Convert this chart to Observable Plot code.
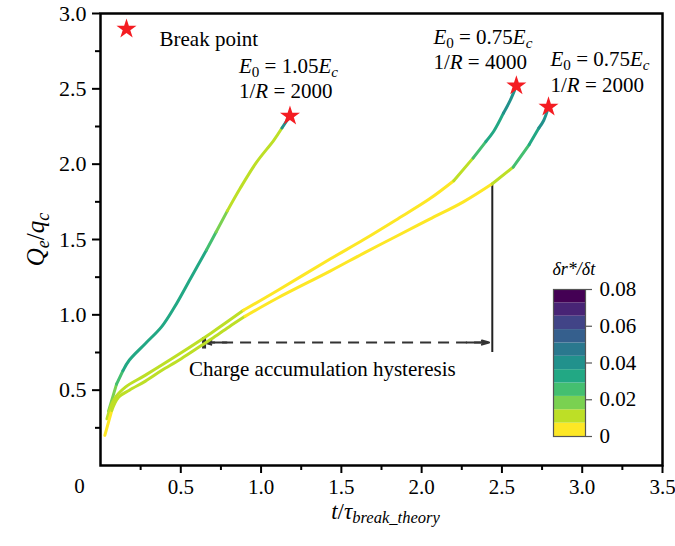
<!DOCTYPE html>
<html>
<head>
<meta charset="utf-8">
<script src="https://cdn.jsdelivr.net/npm/d3@7"></script>
<script src="https://cdn.jsdelivr.net/npm/@observablehq/plot@0.6"></script>
<style>
  html, body { margin: 0; padding: 0; background: white; }
  #wrap { position: relative; width: 675px; height: 546px; }
  #bar { position: absolute; left: 553px; top: 250px; }
  #wrap svg { overflow: visible; }
  #wrap svg, #wrap svg text, #wrap svg tspan { font-family: "Liberation Serif", "Times New Roman", serif !important; }
</style>
</head>
<body>
<div id="wrap"><div id="main"></div><div id="bar"></div></div>
<script>
// ---------- data ----------
const seriesNames = ["A", "B", "C"];
// A: E0 = 1.05Ec, 1/R = 2000
const tA = [0.05, 0.075, 0.10, 0.14, 0.18, 0.28, 0.38, 0.46, 0.56, 0.66, 0.72, 0.79, 0.87, 0.97, 1.08, 1.13, 1.18];
const qA = [0.36, 0.45, 0.54, 0.63, 0.70, 0.81, 0.92, 1.05, 1.24, 1.43, 1.55, 1.69, 1.84, 2.01, 2.16, 2.24, 2.32];
const vA = [0.018, 0.018, 0.025, 0.033, 0.033, 0.033, 0.033, 0.033, 0.033, 0.022, 0.018, 0.011, 0.011, 0.011, 0.011, 0.040, 0.040];
// B: E0 = 0.75Ec, 1/R = 4000
const tB = [0.04, 0.085, 0.155, 0.28, 0.49, 0.69, 0.89, 1.10, 1.43, 1.64, 1.84, 2.05, 2.20, 2.32, 2.40, 2.45, 2.51, 2.55, 2.59];
const qB = [0.31, 0.44, 0.52, 0.60, 0.74, 0.88, 1.03, 1.16, 1.37, 1.50, 1.63, 1.77, 1.89, 2.04, 2.15, 2.22, 2.34, 2.42, 2.52];
const vB = [0.011, 0.011, 0.011, 0.011, 0.011, 0.011, 0.003, 0.003, 0.003, 0.003, 0.003, 0.003, 0.011, 0.022, 0.033, 0.033, 0.040, 0.040, 0.040];
// C: E0 = 0.75Ec, 1/R = 2000
const tC = [0.027, 0.07, 0.11, 0.18, 0.28, 0.38, 0.49, 0.59, 0.69, 0.80, 0.90, 1.10, 1.43, 1.64, 1.84, 2.05, 2.26, 2.44, 2.57, 2.67, 2.73, 2.76, 2.79];
const qC = [0.20, 0.365, 0.45, 0.50, 0.56, 0.63, 0.70, 0.77, 0.84, 0.92, 0.99, 1.11, 1.29, 1.41, 1.52, 1.635, 1.75, 1.87, 1.98, 2.13, 2.24, 2.29, 2.38];
const vC = [0.003, 0.011, 0.011, 0.011, 0.011, 0.011, 0.011, 0.011, 0.011, 0.011, 0.003, 0.003, 0.003, 0.003, 0.003, 0.003, 0.003, 0.011, 0.022, 0.033, 0.040, 0.040, 0.040];

const labelLine1 = ["$E$_{0} = 1.05$E$_{$c$}", "$E$_{0} = 0.75$E$_{$c$}", "$E$_{0} = 0.75$E$_{$c$}"];
const labelLine2 = ["1/$R$ = 2000", "1/$R$ = 4000", "1/$R$ = 2000"];

const xMajor = [0.5, 1.0, 1.5, 2.0, 2.5, 3.0, 3.5];
const xMinor = [0.25, 0.75, 1.25, 1.75, 2.25, 2.75, 3.25];
const yMajor = [0.5, 1.0, 1.5, 2.0, 2.5, 3.0];
const yMinor = [0.25, 0.75, 1.25, 1.75, 2.25, 2.75];
const barTicks = [0, 0.02, 0.04, 0.06, 0.08];
const barMax = 0.08;
const bandCount = 11;

const hysteresisEnds = [0.645, 2.42];
const hysteresisLevel = 0.816;
const dropLineX = 2.44;
const dropLineBottom = 0.75;

const xTitle = "$t$/$τ$_{$break_theory$}";
const yTitle = "$Q$_{$e$}/$q$_{$c$}";
const barTitle = "$δr*/δt$";
const legendText = "Break point";
const hysteresisText = "Charge accumulation hysteresis";

// ---------- derived tables ----------
const curves = [[tA, qA, vA], [tB, qB, vB], [tC, qC, vC]];
const rows = [];
curves.forEach(([t, q, v], i) => t.forEach((tt, j) => rows.push({series: seriesNames[i], t: tt, q: q[j], v: v[j]})));
const breakPoints = curves.map(([t, q], i) => ({series: seriesNames[i], t: t[t.length - 1], q: q[q.length - 1]}));
const dropTop = qC[tC.indexOf(dropLineX)];

const thresholds = d3.range(1, bandCount).map(i => barMax * i / bandCount);
const bandColors = d3.range(bandCount).map(i => d3.interpolateViridis(1 - i / (bandCount - 1)));
const bands = d3.range(bandCount).map(i => ({lo: barMax * i / bandCount, hi: barMax * (i + 1) / bandCount, mid: barMax * (i + 0.5) / bandCount}));
const colorOpts = {type: "threshold", domain: thresholds, range: bandColors};

const FONT = "Liberation Serif";
const RED = "#f41c22";
const FS = 21;

function annot(i, dx, dy1, dy2) {
  const d = [breakPoints[i]];
  return [
    Plot.text(d, {x: "t", y: "q", text: () => labelLine1[i], dx, dy: dy1, textAnchor: "start", fontSize: FS, className: "rich21"}),
    Plot.text(d, {x: "t", y: "q", text: () => labelLine2[i], dx, dy: dy2, textAnchor: "start", fontSize: FS, className: "rich21"})
  ];
}

const main = Plot.plot({
  width: 675, height: 546,
  marginLeft: 100, marginRight: 13, marginTop: 13, marginBottom: 81,
  style: {fontFamily: FONT, fontSize: "21px", color: "black", background: "white"},
  x: {domain: [0, 3.5]},
  y: {domain: [0, 3]},
  color: colorOpts,
  marks: [
    Plot.axisX(xMinor, {tickSize: 5, strokeWidth: 2, tickFormat: () => "", label: null}),
    Plot.axisX(xMajor, {tickSize: 8, tickPadding: 6, strokeWidth: 2, fontSize: 21, tickFormat: d3.format(".1f"), label: null}),
    Plot.axisY(yMinor, {tickSize: 5, strokeWidth: 2, tickFormat: () => "", label: null}),
    Plot.axisY(yMajor, {tickSize: 8, tickPadding: 6, strokeWidth: 2, fontSize: 22, tickFormat: d3.format(".1f"), label: null}),
    Plot.text(["0"], {frameAnchor: "bottom-left", textAnchor: "middle", dx: -21, dy: 27, fontSize: 21}),
    Plot.frame({strokeWidth: 2.5}),
    // drop line and hysteresis arrow
    Plot.ruleX([dropLineX], {y1: dropLineBottom, y2: dropTop, stroke: "#222", strokeWidth: 2}),
    Plot.link([hysteresisEnds], {x1: d => d[0], x2: d => d[1], y1: hysteresisLevel, y2: hysteresisLevel,
      stroke: "#333", strokeWidth: 2, strokeDasharray: "11,7", markerStart: "tick"}),
    Plot.arrow([hysteresisEnds], {x1: d => d[0] + 0.14, x2: d => d[0], y1: hysteresisLevel, y2: hysteresisLevel,
      stroke: "#333", strokeWidth: 2, headLength: 22, headAngle: 32}),
    Plot.arrow([hysteresisEnds], {x1: d => d[1] - 0.14, x2: d => d[1], y1: hysteresisLevel, y2: hysteresisLevel,
      stroke: "#333", strokeWidth: 2, headLength: 22, headAngle: 32}),
    Plot.text([hysteresisEnds], {x: d => d[0], y: hysteresisLevel, text: () => hysteresisText, dx: -15, dy: 27, textAnchor: "start", fontSize: FS}),
    // curves
    Plot.line(rows, {x: "t", y: "q", z: "series", stroke: "v", strokeWidth: 3, curve: "catmull-rom", strokeLinecap: "round", strokeLinejoin: "round"}),
    Plot.dot(breakPoints, {x: "t", y: "q", symbol: "star", r: 6.3, fill: RED, stroke: "none"}),
    ...annot(0, -51, -50, -24.5),
    ...annot(1, -83, -49, -23.5),
    ...annot(2, 2, -47.5, -22),
    // legend
    Plot.dot([legendText], {frameAnchor: "top-left", dx: 26, dy: 15.5, symbol: "star", r: 6.3, fill: RED, stroke: "none"}),
    Plot.text([legendText], {frameAnchor: "top-left", dx: 59, dy: 18, textAnchor: "start", fontSize: FS}),
    // titles
    Plot.text([yTitle], {frameAnchor: "left", textAnchor: "middle", dx: -65, rotate: -90, fontSize: 25, className: "rich25"}),
    Plot.text([xTitle], {frameAnchor: "bottom", textAnchor: "middle", dx: 4, dy: 53, fontSize: 23, className: "rich23"})
  ]
});
document.getElementById("main").appendChild(main);

const bar = Plot.plot({
  width: 95, height: 197,
  marginLeft: 0, marginRight: 63, marginTop: 39, marginBottom: 11,
  style: {fontFamily: FONT, fontSize: "21px", color: "black", background: "transparent"},
  x: {domain: [0, 1], axis: null},
  y: {domain: [0, barMax]},
  color: colorOpts,
  marks: [
    Plot.rect(bands, {x1: 0, x2: 1, y1: "lo", y2: "hi", fill: "mid"}),
    Plot.frame({stroke: "#555", strokeWidth: 1.2}),
    Plot.axisY(barTicks, {anchor: "right", tickSize: 6, tickPadding: 8, stroke: "#555", strokeWidth: 1.2, fontSize: 21,
      tickFormat: d => d === 0 ? "0" : d3.format(".2f")(d), label: null}),
    Plot.text([barTitle], {frameAnchor: "top-left", dx: -1, dy: -27, textAnchor: "start", fontSize: 18, className: "rich18"})
  ]
});
document.getElementById("bar").appendChild(bar);

// ---------- rich text (italic / subscript) ----------
const NS = "http://www.w3.org/2000/svg";
function richify(el, F) {
  const s = el.textContent;
  while (el.firstChild) el.removeChild(el.firstChild);
  const re = /_\{([^}]*)\}|\$([^$]*)\$|([^_$]+)/g;
  const subSize = F * 0.72, shift = F * 0.2;
  let m, shifted = false;
  while ((m = re.exec(s))) {
    const ts = document.createElementNS(NS, "tspan");
    if (m[1] !== undefined) {
      let txt = m[1];
      if (txt.startsWith("$") && txt.endsWith("$")) { txt = txt.slice(1, -1); ts.setAttribute("font-style", "italic"); }
      ts.textContent = txt;
      ts.setAttribute("font-size", subSize);
      if (!shifted) { ts.setAttribute("dy", shift); shifted = true; }
    } else {
      if (shifted) { ts.setAttribute("dy", -shift); shifted = false; }
      if (m[2] !== undefined) { ts.textContent = m[2]; ts.setAttribute("font-style", "italic"); }
      else ts.textContent = m[3];
    }
    el.appendChild(ts);
  }
}
[[main, 21], [main, 25], [main, 23], [bar, 18]].forEach(([svg, F]) => {
  d3.select(svg).selectAll(`g.rich${F} text`).each(function() { richify(this, F); });
});
</script>
</body>
</html>
